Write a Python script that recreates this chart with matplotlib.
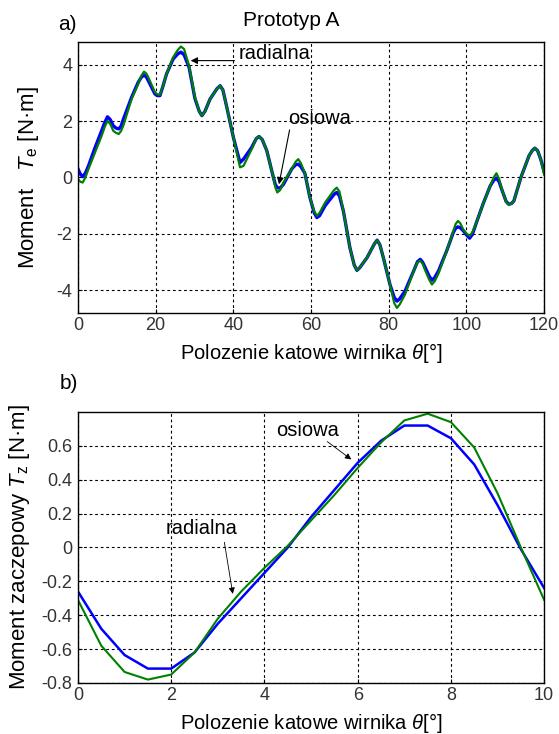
import matplotlib
matplotlib.use("Agg")
import matplotlib.pyplot as plt

plt.rcParams['font.family'] = ['Liberation Sans', 'DejaVu Sans']
plt.rcParams['mathtext.fontset'] = 'custom'
plt.rcParams['mathtext.rm'] = 'Liberation Sans'
plt.rcParams['mathtext.it'] = 'Liberation Sans:italic'
plt.rcParams['axes.unicode_minus'] = False

# a) electromagnetic torque vs rotor angle
theta_a = [0, 0.6, 1.2, 1.9, 2.7, 4.4, 6.1, 6.9, 7.6, 8.3, 9.1, 9.8, 10.5, 11.1, 11.7,
           13.8, 15.5, 16.3, 17.0, 17.6, 18.1, 19.8, 20.4, 21.1, 21.8, 22.8, 24.5,
           25.7, 26.5, 27.3, 28.6, 30.1, 31.2, 31.9, 32.7, 34.0, 35.8, 36.6, 37.3,
           38.3, 40.0, 41.7, 42.6, 44.7, 45.9, 46.6, 47.4, 48.6, 50.3, 50.8, 51.3,
           52.0, 52.9, 55.0, 56.0, 56.7, 57.4, 58.4, 59.7, 60.8, 61.5, 62.2, 63.6,
           65.9, 66.6, 67.3, 68.3, 70.0, 71.1, 71.8, 72.5, 74.4, 76.3, 77.0, 77.7,
           78.6, 80.3, 81.4, 82.1, 82.8, 84.2, 86.4, 87.4, 88.1, 88.7, 89.4, 90.4,
           91.1, 91.8, 92.8, 94.9, 96.6, 97.2, 97.8, 98.4, 99.2, 100.1, 100.8, 101.5,
           102.7, 104.4, 106.1, 107.0, 107.7, 108.4, 109.2, 110.2, 110.9, 111.6,
           112.2, 114.0, 116.1, 116.9, 117.6, 118.3, 119.1, 120]
te_osiowa = [0.30, 0.12, 0.03, 0.15, 0.41, 1.06, 1.66, 1.95, 2.15, 2.05, 1.83, 1.75,
             1.72, 1.82, 2.07, 2.84, 3.37, 3.55, 3.63, 3.56, 3.43, 2.96, 2.90, 2.90,
             3.20, 3.67, 4.20, 4.38, 4.44, 4.35, 3.90, 2.80, 2.35, 2.19, 2.35, 2.78,
             3.15, 3.25, 3.10, 2.49, 1.42, 0.53, 0.65, 1.06, 1.38, 1.45, 1.35, 0.95,
             0.0, -0.25, -0.36, -0.38, -0.24, 0.30, 0.45, 0.47, 0.38, 0.15, -0.71,
             -1.25, -1.42, -1.35, -1.0, -0.60, -0.53, -0.65, -1.18, -2.49, -3.10,
             -3.29, -3.20, -2.84, -2.35, -2.22, -2.38, -2.84, -3.79, -4.25, -4.38,
             -4.30, -4.02, -3.31, -2.98, -2.90, -3.00, -3.20, -3.50, -3.64, -3.55,
             -3.31, -2.60, -1.95, -1.80, -1.75, -1.78, -1.89, -2.05, -2.15, -2.02,
             -1.54, -0.89, -0.30, -0.10, -0.02, -0.15, -0.47, -0.85, -0.95, -0.92,
             -0.83, 0.0, 0.77, 0.95, 1.04, 0.95, 0.65, 0.20]
te_radialna = [-0.06, -0.15, -0.18, 0.0, 0.30, 0.89, 1.48, 1.80, 2.00, 1.90, 1.65, 1.58,
               1.54, 1.65, 1.85, 2.78, 3.31, 3.60, 3.75, 3.68, 3.55, 3.02, 2.95, 2.93,
               3.20, 3.67, 4.26, 4.52, 4.64, 4.55, 3.95, 2.84, 2.35, 2.19, 2.35, 2.78,
               3.15, 3.25, 3.10, 2.49, 1.42, 0.36, 0.41, 1.00, 1.38, 1.45, 1.35, 0.95,
               0.0, -0.35, -0.53, -0.45, -0.18, 0.30, 0.55, 0.65, 0.50, 0.15, -0.71,
               -1.20, -1.36, -1.25, -0.89, -0.45, -0.36, -0.50, -1.18, -2.49, -3.10,
               -3.29, -3.20, -2.84, -2.35, -2.22, -2.38, -2.84, -3.79, -4.45, -4.62,
               -4.50, -4.14, -3.31, -3.00, -2.95, -3.05, -3.30, -3.62, -3.79, -3.68,
               -3.40, -2.60, -1.90, -1.65, -1.54, -1.62, -1.85, -2.00, -2.07, -1.95,
               -1.54, -0.89, -0.30, 0.00, 0.15, -0.05, -0.47, -0.87, -0.97, -0.92,
               -0.83, 0.0, 0.77, 0.95, 1.04, 0.95, 0.65, 0.10]

# b) cogging torque vs rotor angle
theta_b = [0, 0.5, 1, 1.5, 2, 2.5, 3, 3.5, 4, 4.5, 5, 5.5, 6, 6.5, 7, 7.5, 8, 8.5,
           9, 9.5, 10]
tz_osiowa = [-0.26, -0.48, -0.635, -0.715, -0.715, -0.62, -0.45, -0.30, -0.15, 0.0,
             0.18, 0.34, 0.50, 0.63, 0.72, 0.72, 0.645, 0.49, 0.25, -0.01, -0.24]
tz_radialna = [-0.31, -0.58, -0.735, -0.78, -0.75, -0.62, -0.42, -0.26, -0.12, 0.01,
               0.16, 0.31, 0.47, 0.62, 0.75, 0.79, 0.74, 0.59, 0.32, 0.0, -0.31]

xticks_a = [0, 20, 40, 60, 80, 100, 120]
yticks_a = [-4, -2, 0, 2, 4]
xticks_b = [0, 2, 4, 6, 8, 10]
yticks_b = [-0.8, -0.6, -0.4, -0.2, 0, 0.2, 0.4, 0.6]
ylabels_b = ['-0.8', '-0.6', '-0.4', '-0.2', '0', '0.2', '0.4', '0.6']

blue = '#0000ff'
green = '#008000'
xlab = r'Polozenie katowe wirnika $\theta$[°]'

fig = plt.figure(figsize=(5.59, 7.34), dpi=100)
ax1 = fig.add_axes([0.1395, 0.5736, 0.834, 0.3692])
ax2 = fig.add_axes([0.1395, 0.0695, 0.834, 0.3692])


def style(ax):
    ax.grid(True, color='k', linestyle=(0, (2.5, 2.5)), linewidth=0.8)
    ax.tick_params(direction='in', length=3, labelsize=13, labelcolor='#333333')
    ax.tick_params(axis='x', pad=3)
    ax.tick_params(axis='y', pad=4)
    for s in ax.spines.values():
        s.set_linewidth(1.0)


ax1.plot(theta_a, te_osiowa, color=blue, lw=2.4, solid_joinstyle='round')
ax1.plot(theta_a, te_radialna, color=green, lw=1.6, solid_joinstyle='round')
ax1.set_xlim(0, 120)
ax1.set_ylim(-4.8, 4.8)
ax1.set_xticks(xticks_a)
ax1.set_yticks(yticks_a)
style(ax1)
ax1.set_xlabel(xlab, fontsize=14.5)
ax1.xaxis.set_label_coords(0.5, -0.105)
ax1.set_ylabel(r'Moment   $T_{\rm e}$ [N·m]', fontsize=16)
ax1.yaxis.set_label_coords(-0.079, 0.5)

ax1.annotate('', xy=(28.3, 4.14), xytext=(41.0, 4.14),
             arrowprops=dict(arrowstyle='-|>', color='k', lw=0.8, mutation_scale=10))
ax1.text(41.3, 4.38, 'radialna', fontsize=14.5, ha='left', va='center')
ax1.annotate('', xy=(51.6, -0.34), xytext=(54.6, 1.78),
             arrowprops=dict(arrowstyle='-|>', color='k', lw=0.8, mutation_scale=10))
ax1.text(54.1, 2.08, 'osiowa', fontsize=14.5, ha='left', va='center')

ax2.plot(theta_b, tz_osiowa, color=blue, lw=1.8)
ax2.plot(theta_b, tz_radialna, color=green, lw=1.5)
ax2.set_xlim(0, 10)
ax2.set_ylim(-0.8, 0.8)
ax2.set_xticks(xticks_b)
ax2.set_yticks(yticks_b)
ax2.set_yticklabels(ylabels_b)
style(ax2)
ax2.set_xlabel(xlab, fontsize=14.5)
ax2.xaxis.set_label_coords(0.5, -0.105)
ax2.set_ylabel(r'Moment zaczepowy $T_{\rm z}$ [N·m]', fontsize=16)
ax2.yaxis.set_label_coords(-0.099, 0.5)

ax2.annotate('', xy=(5.91, 0.51), xytext=(5.3, 0.635),
             arrowprops=dict(arrowstyle='-|>', color='k', lw=0.6, mutation_scale=9))
ax2.text(4.25, 0.69, 'osiowa', fontsize=14.5, ha='left', va='center')
ax2.annotate('', xy=(3.33, -0.29), xytext=(3.13, 0.047),
             arrowprops=dict(arrowstyle='-|>', color='k', lw=0.6, mutation_scale=9))
ax2.text(1.89, 0.115, 'radialna', fontsize=14.5, ha='left', va='center')

fig.text(0.521, 0.972, 'Prototyp A', fontsize=15, ha='center', va='center')
fig.text(0.104, 0.966, 'a)', fontsize=15, ha='left', va='center')
fig.text(0.106, 0.478, 'b)', fontsize=15, ha='left', va='center')

fig.savefig('out.png', dpi=100)
